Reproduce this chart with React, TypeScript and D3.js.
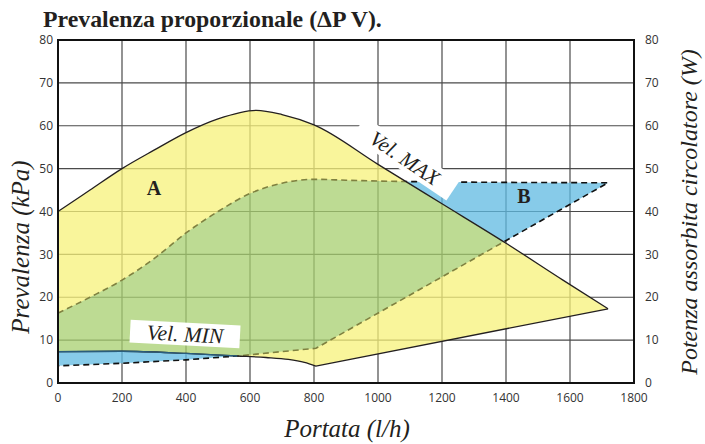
import React from 'react';
import * as d3 from 'd3';

const W = 705;
const H = 444;

const xTicks = [0, 200, 400, 600, 800, 1000, 1200, 1400, 1600, 1800];
const yTicks = [0, 10, 20, 30, 40, 50, 60, 70, 80];

// Vel. MAX curve (upper edge of area A)
const velMaxCurve: [number, number][] = [
  [0, 40], [100, 45], [200, 50], [300, 54.3], [400, 58.4], [500, 61.6],
  [620, 63.6], [700, 62.6], [800, 60.2], [1000, 51], [1200, 41.8],
  [1400, 32.6], [1578, 24], [1719, 17.3],
];
// Vel. MIN curve (lower edge of area A)
const velMinCurve: [number, number][] = [
  [0, 7.3], [200, 7.4], [400, 6.9], [560, 6.3], [650, 5.95], [720, 5.5],
  [770, 4.8], [806, 3.96],
];
const velMinTail: [number, number][] = [[806, 3.96], [1719, 17.3]];

// Power absorbed area (dashed outline)
const powerTop: [number, number][] = [
  [0, 16.3], [100, 20], [200, 24], [300, 29], [400, 35], [500, 40],
  [600, 44.2], [700, 46.6], [800, 47.5], [900, 47.3], [1000, 47.1],
  [1078, 47.0], [1719, 46.7],
];
const powerBottom: [number, number][] = [
  [0, 4.0], [200, 4.6], [400, 5.4], [560, 6.3], [806, 8.1], [1719, 46.7],
];

const x = d3.scaleLinear().domain([0, 1800]).range([58, 634]);
const y = d3.scaleLinear().domain([0, 80]).range([383, 40]);

const smooth = d3.line<[number, number]>().x(d => x(d[0])).y(d => y(d[1])).curve(d3.curveMonotoneX);
const lin = d3.line<[number, number]>().x(d => x(d[0])).y(d => y(d[1]));

const joinPaths = (...parts: string[]) =>
  parts.map((p, i) => (i === 0 ? p : p.replace(/^M/, 'L'))).join('') + 'Z';

const rev = (a: [number, number][]) => a.slice().reverse();

const pathA = joinPaths(
  smooth(velMaxCurve) as string,
  lin(rev(velMinTail)) as string,
  smooth(rev(velMinCurve)) as string,
);
const pathD = joinPaths(
  smooth(powerTop) as string,
  lin(rev(powerBottom)) as string,
);
const pathDOpen = (smooth(powerTop) as string) + (lin(rev(powerBottom)) as string).replace(/^M/, 'L');
const lowerLine = (smooth(velMinCurve) as string) + (lin(velMinTail) as string).replace(/^M/, 'L');

const serif = '"Liberation Serif", "Times New Roman", serif';
const sans = '"Open Sans", "DejaVu Sans", sans-serif';

export default function App() {
  const x0 = x(0), x1 = x(1800), yT = y(80), yB = y(0);
  return (
    <svg width={W} height={H} viewBox={`0 0 ${W} ${H}`} style={{ display: 'block', position: 'absolute', left: 0, top: 0 }}>
      <defs>
        <clipPath id="clipA"><path d={pathA} /></clipPath>
        <clipPath id="clipLeft"><rect x={0} y={0} width={x(560)} height={H} /></clipPath>
        <mask id="maskNotA" maskUnits="userSpaceOnUse" x={0} y={0} width={W} height={H}>
          <rect x={0} y={0} width={W} height={H} fill="white" />
          <path d={pathA} fill="black" />
        </mask>
      </defs>
      <rect x={0} y={0} width={W} height={H} fill="white" />

      <text x={43} y={27} fontFamily={serif} fontWeight="bold" fontSize={23.8} fill="#231f20">
        Prevalenza proporzionale (ΔP V).
      </text>

      {/* grid */}
      <g stroke="#4a4a4a" strokeWidth={1.2}>
        {xTicks.map(t => <line key={'gx' + t} x1={x(t)} x2={x(t)} y1={yT} y2={yB} />)}
        {yTicks.map(t => <line key={'gy' + t} x1={x0} x2={x1} y1={y(t)} y2={y(t)} />)}
      </g>

      {/* fills */}
      <g opacity={0.75}>
        <path d={pathD} fill="#5fbae2" />
        <path d={pathA} fill="#f8f27a" />
        <path d={pathD} fill="#a8d070" clipPath="url(#clipA)" />
      </g>

      {/* dashed power outline */}
      <path d={pathDOpen} fill="none" stroke="#7f8140" strokeWidth={1.6} strokeDasharray="6,4" clipPath="url(#clipA)" />
      <path d={pathDOpen} fill="none" stroke="#111" strokeWidth={1.6} strokeDasharray="6,4" mask="url(#maskNotA)" />

      {/* labels with white boxes */}
      <g transform="translate(405,158) rotate(34)">
        <rect x={-56} y={-12} width={114} height={24} fill="white" />
        <text x={0} y={0} dy="0.35em" textAnchor="middle" fontFamily={serif} fontStyle="italic" fontSize={21} fill="#231f20">Vel. MAX</text>
      </g>
      <g transform="translate(185,334) rotate(3)">
        <rect x={-55} y={-11.5} width={110} height={23} fill="white" />
        <text x={0} y={0} dy="0.35em" textAnchor="middle" fontFamily={serif} fontStyle="italic" fontSize={21.5} fill="#231f20">Vel. MIN</text>
      </g>

      {/* solid curves */}
      <path d={smooth(velMaxCurve) as string} fill="none" stroke="#231f20" strokeWidth={1.3} />
      <path d={lowerLine} fill="none" stroke="#231f20" strokeWidth={1.3} />
      <path d={lowerLine} fill="none" stroke="#2a5d7c" strokeWidth={1.4} clipPath="url(#clipLeft)" />

      <text x={154} y={195} textAnchor="middle" fontFamily={serif} fontWeight="bold" fontSize={20} fill="#231f20">A</text>
      <text x={524} y={203} textAnchor="middle" fontFamily={serif} fontWeight="bold" fontSize={20} fill="#231f20">B</text>

      {/* frame */}
      <rect x={x0} y={yT} width={x1 - x0} height={yB - yT} fill="none" stroke="#111" strokeWidth={2} />

      {/* tick labels */}
      <g fontFamily={sans} fontSize={12} fill="#333">
        {yTicks.map(t => (
          <text key={'yl' + t} x={53} y={y(t)} dy="0.35em" textAnchor="end">{t}</text>
        ))}
        {yTicks.map(t => (
          <text key={'yr' + t} x={645} y={y(t)} dy="0.35em" textAnchor="start">{t}</text>
        ))}
        {xTicks.map(t => (
          <text key={'xl' + t} x={x(t)} y={398} dy="0.35em" textAnchor="middle">{t}</text>
        ))}
      </g>

      {/* axis titles */}
      <text x={347} y={437} textAnchor="middle" fontFamily={serif} fontStyle="italic" fontSize={25} fill="#231f20">Portata (l/h)</text>
      <text transform="translate(29,247) rotate(-90)" textAnchor="middle" fontFamily={serif} fontStyle="italic" fontSize={25} fill="#231f20">Prevalenza (kPa)</text>
      <text transform="translate(697,212) rotate(-90)" textAnchor="middle" fontFamily={serif} fontStyle="italic" fontSize={24} fill="#231f20">Potenza assorbita circolatore (W)</text>
    </svg>
  );
}
